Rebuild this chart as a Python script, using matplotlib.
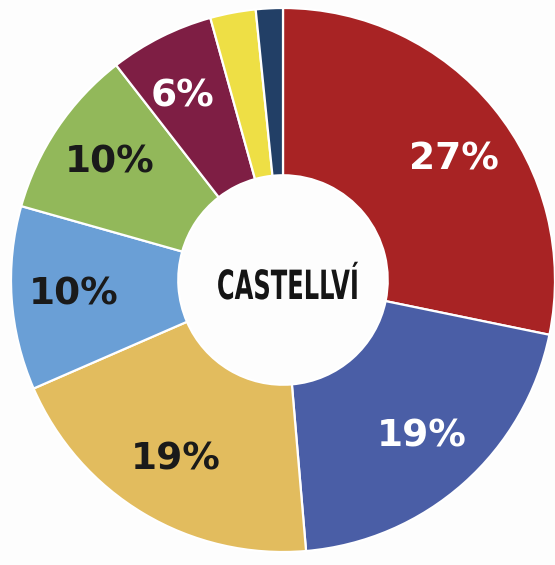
import matplotlib
matplotlib.use("Agg")
import matplotlib.pyplot as plt
import matplotlib.patheffects as pe
from matplotlib.transforms import Affine2D
import numpy as np

categories = ["A", "B", "C", "D", "E", "F", "G", "H"]
values = [28.2, 20.4, 19.8, 10.9, 10.1, 6.2, 2.7, 1.6]
labels = ["27%", "19%", "19%", "10%", "10%", "6%", "", ""]
colors = ["#A82324", "#4A5EA6", "#E2BC5E", "#6A9FD6", "#92B85A", "#7E1E44", "#EEDF45", "#223F66"]
label_colors = ["white", "white", "#1a1a1a", "#1a1a1a", "#1a1a1a", "white", "white", "white"]
label_angle_shift = [-4, 0, 0, 0, 0, 2, 0, 0]
center_title = "CASTELLVÍ"

W, H = 555, 565
fig = plt.figure(figsize=(W / 100, H / 100), dpi=100)
fig.patch.set_facecolor("#FDFDFD")
ax = fig.add_axes([0, 0, 1, 1])

cx, cy, R = 283, 285, 272
wedges, _ = ax.pie(values, colors=colors, startangle=90, counterclock=False,
                   center=(cx, cy), radius=R,
                   wedgeprops=dict(width=R * 0.615, edgecolor="white", linewidth=1.6))
ax.set_xlim(0, W)
ax.set_ylim(0, H)
ax.set_aspect("equal")
ax.axis("off")

for w, lab, lc, sh in zip(wedges, labels, label_colors, label_angle_shift):
    if not lab:
        continue
    ang = np.deg2rad((w.theta1 + w.theta2) / 2 + sh)
    r = R * 0.77
    ax.text(cx + r * np.cos(ang), cy + r * np.sin(ang), lab, ha="center", va="center",
            color=lc, fontsize=27, fontweight="bold", family="DejaVu Sans")


class Squeeze(pe.AbstractPathEffect):
    """Compress glyphs horizontally around a fixed display x (condensed look)."""
    def __init__(self, x0, sx):
        super().__init__()
        self.x0 = x0
        self.sx = sx

    def draw_path(self, renderer, gc, tpath, affine, rgbFace=None):
        t = affine + Affine2D().translate(-self.x0, 0).scale(self.sx, 1).translate(self.x0, 0)
        renderer.draw_path(gc, tpath, t, rgbFace)


tx, ty = 288, 266
x0_disp = ax.transData.transform((tx, ty))[0]
ax.text(tx, ty, center_title, ha="center", va="baseline", color="#151515",
        fontsize=29, fontweight="bold", family="DejaVu Sans",
        path_effects=[Squeeze(x0_disp, 0.6)])

fig.savefig("out.png", dpi=100, facecolor=fig.get_facecolor())
